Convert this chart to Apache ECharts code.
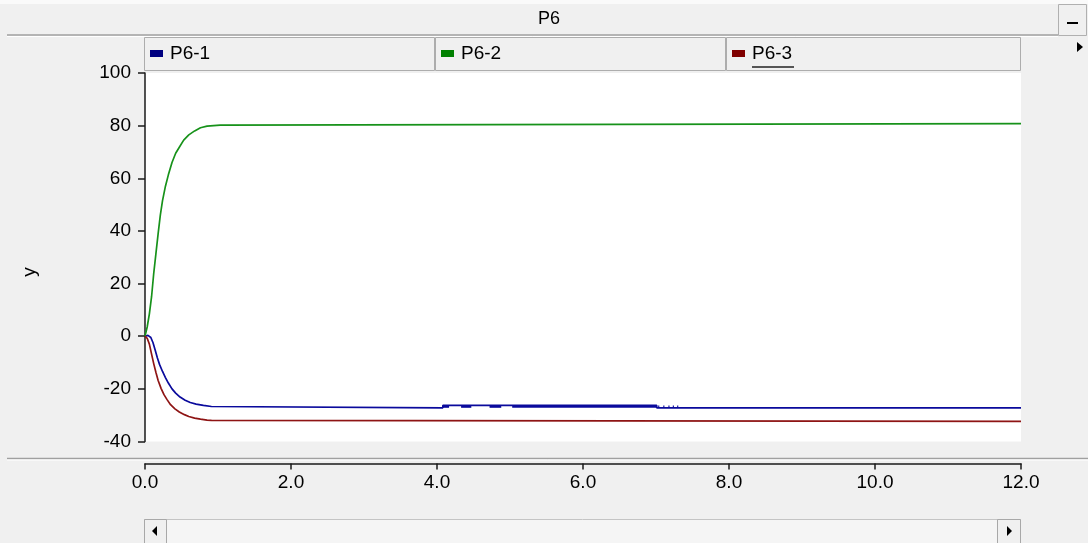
<!DOCTYPE html>
<html>
<head>
<meta charset="utf-8">
<script src="https://cdn.jsdelivr.net/npm/echarts@6/dist/echarts.min.js"></script>
<style>
html,body{margin:0;padding:0;background:#f0f0f0;}
#chart{width:1088px;height:543px;}
</style>
</head>
<body>
<div id="chart"></div>
<script>
// ---- data ----
const chartTitle = 'P6';
const seriesNames = ['P6-1', 'P6-2', 'P6-3'];
const xTicks = [0, 2, 4, 6, 8, 10, 12];
const yTicks = [-40, -20, 0, 20, 40, 60, 80, 100];

const p61Time  = [0, 0.04, 0.08, 0.11, 0.14, 0.17, 0.2, 0.24, 0.28, 0.32, 0.37, 0.42, 0.48, 0.55, 0.62, 0.7, 0.8, 0.91, 0.92, 4.08, 4.08, 7.01, 7.01, 12];
const p61Value = [0, 0.3, -0.5, -2.5, -5.3, -8.3, -10.8, -13.4, -15.7, -17.8, -20, -21.6, -23.1, -24.3, -25.2, -25.8, -26.3, -26.7, -27.2, -27.2, -26.3, -26.3, -27.2, -27.2];
// chattering band of P6-1 (filled between low and high)
const p61BandStart = [4.08, 4.33, 4.72, 5.03, 7.03, 7.10, 7.17, 7.23, 7.29];
const p61BandEnd   = [4.165, 4.47, 4.88, 7.01, 7.045, 7.115, 7.185, 7.245, 7.305];
const p61BandLow = -27.2;
const p61BandHigh = -26.3;

const p62Time  = [0, 0.03, 0.06, 0.09, 0.12, 0.15, 0.18, 0.21, 0.24, 0.28, 0.32, 0.37, 0.42, 0.47, 0.53, 0.6, 0.68, 0.76, 0.85, 1.03, 1.04, 12];
const p62Value = [0, 3.5, 8.5, 15, 24, 31.5, 39, 46, 51.5, 57, 61.3, 66, 69.5, 71.8, 74.5, 76.5, 78, 79.2, 79.8, 80.2, 80.8, 80.8];

const p63Time  = [0, 0.03, 0.06, 0.09, 0.12, 0.15, 0.18, 0.22, 0.26, 0.3, 0.35, 0.41, 0.47, 0.54, 0.6, 0.68, 0.76, 0.85, 0.91, 0.92, 12];
const p63Value = [0, -0.8, -3, -6.8, -10.5, -13.8, -16.8, -19.8, -22.2, -24, -26, -27.6, -28.8, -29.8, -30.5, -31.1, -31.5, -31.9, -32, -32.35, -32.35];

// ---- build ----
const FONT = '"Liberation Sans", Arial, sans-serif';
const FS = 19;
const zip = (t, v) => t.map((x, i) => [x, v[i]]);
const legendColors = ['#000080', '#008000', '#800000'];
const lineColors = ['#0a0a9c', '#17921a', '#8e1414'];

const bandData = p61BandStart.map((s, i) => [
  { xAxis: s, yAxis: p61BandLow },
  { xAxis: p61BandEnd[i], yAxis: p61BandHigh }
]);

function legendAt(name, left) {
  return {
    data: [name], left: left, top: 44, padding: 0,
    icon: 'rect', itemWidth: 13, itemHeight: 7,
    textStyle: { fontSize: FS, fontFamily: FONT, color: '#000', padding: [0, 0, 0, 2] }
  };
}

const chart = echarts.init(document.getElementById('chart'));
chart.setOption({
  animation: false,
  backgroundColor: '#f0f0f0',
  textStyle: { fontFamily: FONT },
  title: {
    text: chartTitle, left: 549, top: 10, textAlign: 'center', padding: 0,
    textStyle: { fontSize: 18, fontWeight: 'normal', color: '#000', fontFamily: FONT }
  },
  legend: [legendAt(seriesNames[0], 150), legendAt(seriesNames[1], 441), legendAt(seriesNames[2], 732)],
  grid: {
    left: 145, right: 67, top: 73, bottom: 101.5,
    show: true, backgroundColor: '#ffffff', borderWidth: 0
  },
  xAxis: {
    type: 'value', min: xTicks[0], max: xTicks[xTicks.length - 1], interval: 2,
    offset: 22,
    axisLine: { show: true, onZero: false, lineStyle: { color: '#1a1a1a', width: 1.5 } },
    axisTick: { show: true, length: 6, lineStyle: { color: '#1a1a1a', width: 1.5 } },
    axisLabel: { margin: 10, fontSize: FS, color: '#000', fontFamily: FONT, formatter: v => v.toFixed(1) },
    splitLine: { show: false }
  },
  yAxis: {
    type: 'value', min: yTicks[0], max: yTicks[yTicks.length - 1], interval: 20,
    axisLine: { show: true, onZero: false, lineStyle: { color: '#1a1a1a', width: 1.5 } },
    axisTick: { show: true, length: 7, lineStyle: { color: '#1a1a1a', width: 1.5 } },
    axisLabel: { margin: 14, fontSize: FS, color: '#000', fontFamily: FONT },
    splitLine: { show: false }
  },
  series: [
    {
      name: seriesNames[0], type: 'line', data: zip(p61Time, p61Value),
      showSymbol: false, itemStyle: { color: legendColors[0] },
      lineStyle: { color: lineColors[0], width: 1.7 },
      markArea: { silent: true, itemStyle: { color: lineColors[0], opacity: 1 }, data: bandData }
    },
    {
      name: seriesNames[1], type: 'line', data: zip(p62Time, p62Value),
      showSymbol: false, itemStyle: { color: legendColors[1] },
      lineStyle: { color: lineColors[1], width: 1.7 }
    },
    {
      name: seriesNames[2], type: 'line', data: zip(p63Time, p63Value),
      showSymbol: false, itemStyle: { color: legendColors[2] },
      lineStyle: { color: lineColors[2], width: 1.7 }
    }
  ],
  graphic: [
    // top strip and header line
    { type: 'rect', silent: true, z: -10, shape: { x: 0, y: 0, width: 1088, height: 4 }, style: { fill: '#fafafa' } },
    { type: 'line', silent: true, shape: { x1: 7, y1: 35, x2: 1058, y2: 35 }, style: { stroke: '#a0a0a0', lineWidth: 1.5 } },
    { type: 'line', silent: true, shape: { x1: 7, y1: 36.5, x2: 1058, y2: 36.5 }, style: { stroke: '#ffffff', lineWidth: 1 } },
    // minimize button
    { type: 'rect', silent: true, shape: { x: 1058.5, y: 4.5, width: 28, height: 31 }, style: { fill: '#f0f0f0', stroke: '#b0b0b0', lineWidth: 1 } },
    { type: 'line', silent: true, shape: { x1: 1067, y1: 23, x2: 1078, y2: 23 }, style: { stroke: '#000', lineWidth: 2 } },
    // legend boxes
    { type: 'rect', silent: true, z: -5, shape: { x: 144.5, y: 37.5, width: 290, height: 33 }, style: { fill: '#f0f0f0', stroke: '#adadad', lineWidth: 1 } },
    { type: 'rect', silent: true, z: -5, shape: { x: 435.5, y: 37.5, width: 290, height: 33 }, style: { fill: '#f0f0f0', stroke: '#adadad', lineWidth: 1 } },
    { type: 'rect', silent: true, z: -5, shape: { x: 726.5, y: 37.5, width: 294, height: 33 }, style: { fill: '#f0f0f0', stroke: '#adadad', lineWidth: 1 } },
    { type: 'line', silent: true, shape: { x1: 752, y1: 67, x2: 794, y2: 67 }, style: { stroke: '#222', lineWidth: 1.5 } },
    // small right arrow
    { type: 'polygon', silent: true, shape: { points: [[1077, 42], [1077, 52], [1083, 47]] }, style: { fill: '#000' } },
    // y axis name
    { type: 'text', silent: true, x: 30, y: 272, rotation: Math.PI / 2,
      style: { text: 'y', x: 0, y: 0, align: 'center', verticalAlign: 'middle', fontSize: FS, fontFamily: FONT, fill: '#000' } },
    // divider above x axis
    { type: 'line', silent: true, shape: { x1: 7, y1: 458.5, x2: 1088, y2: 458.5 }, style: { stroke: '#a0a0a0', lineWidth: 1.5 } },
    { type: 'line', silent: true, shape: { x1: 7, y1: 460, x2: 1088, y2: 460 }, style: { stroke: '#ffffff', lineWidth: 1 } },
    // scrollbar
    { type: 'rect', silent: true, shape: { x: 144.5, y: 519.5, width: 876, height: 24 }, style: { fill: '#f5f5f5', stroke: '#c4c4c4', lineWidth: 1 } },
    { type: 'rect', silent: true, shape: { x: 144.5, y: 519.5, width: 22, height: 24 }, style: { fill: '#f0f0f0', stroke: '#a8a8a8', lineWidth: 1 } },
    { type: 'rect', silent: true, shape: { x: 997.5, y: 519.5, width: 23, height: 24 }, style: { fill: '#f0f0f0', stroke: '#a8a8a8', lineWidth: 1 } },
    { type: 'polygon', silent: true, shape: { points: [[157, 526], [157, 536], [152, 531]] }, style: { fill: '#000' } },
    { type: 'polygon', silent: true, shape: { points: [[1007, 526], [1007, 536], [1012, 531]] }, style: { fill: '#000' } }
  ]
});
</script>
</body>
</html>
